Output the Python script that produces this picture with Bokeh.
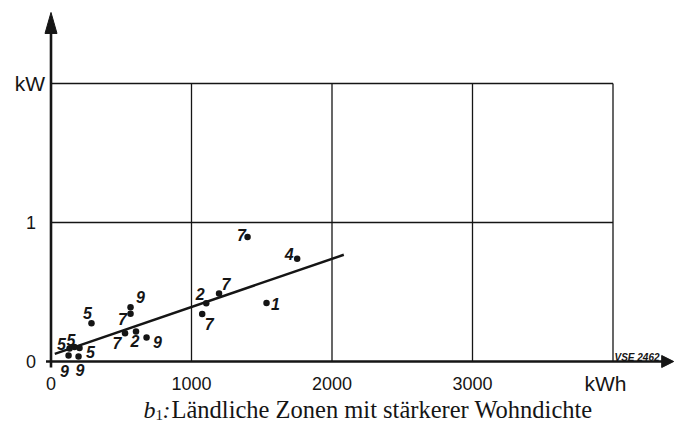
from bokeh.plotting import figure
from bokeh.models import ColumnDataSource
from bokeh.core.properties import value
from bokeh.embed import file_html
from bokeh.resources import INLINE

# ---------------- data ----------------
energy_kwh = [288, 566, 566, 527, 605, 680, 132, 167, 203, 125, 196,
              1105, 1196, 1076, 1534, 1399, 1752]
power_kw = [0.276, 0.390, 0.343, 0.204, 0.216, 0.173, 0.094, 0.104, 0.097,
            0.043, 0.036, 0.419, 0.489, 0.342, 0.421, 0.896, 0.739]
point_labels = ["5", "9", "7", "7", "2", "9", "5", "5", "5", "9", "9",
                "2", "7", "7", "1", "7", "4"]
trend_kwh = [27, 2084]
trend_kw = [0.055, 0.768]
x_ticks = [0, 1000, 2000, 3000]
x_tick_labels = ["0", "1000", "2000", "3000"]
x_unit_pos = [3947]
x_unit = ["kWh"]
y_ticks = [0, 1]
y_tick_labels = ["0", "1"]
y_unit_pos = [2]
y_unit = ["kW"]
grid_x = [1000, 2000, 3000, 4000]
grid_y = [1, 2]
x_max = 4000
y_max = 2
caption_prefix = "b"
caption_sub = "1"
caption_text = "Ländliche Zonen mit stärkerer Wohndichte"
stamp = "VSE 2462"

# ---------------- layout (pixels) ----------------
W, H = 675, 434
X0_PX = 50.5      # pixel of x=0
SX = 0.1405       # px per kWh
Y0_PX = 361.0     # pixel (from top) of y=0
SY = 139.0        # px per kW

xr = (-X0_PX / SX, (W - X0_PX) / SX)
yr = ((Y0_PX - H) / SY, Y0_PX / SY)

def dxp(px):
    return px / SX

def dyp(px):
    return px / SY

# label offsets relative to points, in px
label_dx = [-4, 10, -8, -8, -1, 11, -8, -3.5, 11, -4, 1.5, -6, 7, 7, 9, -6, -8]
label_dy = [-10, -10, 5, 10, 10, 5, -4, -7.5, 3.5, 15, 14, -9, -10, 10, 1, -2, -5]

INK = "#151515"

p = figure(width=W, height=H, x_range=xr, y_range=yr, output_backend="svg",
           toolbar_location=None, min_border=0, x_axis_location=None,
           y_axis_location=None)
p.xgrid.visible = False
p.ygrid.visible = False
p.outline_line_color = None
p.background_fill_color = "white"
p.border_fill_color = "white"

# grid / frame
p.segment(x0=grid_x, y0=[0] * len(grid_x), x1=grid_x, y1=[y_max] * len(grid_x),
          line_color=INK, line_width=1.3)
p.segment(x0=[0] * len(grid_y), y0=grid_y, x1=[x_max] * len(grid_y), y1=grid_y,
          line_color=INK, line_width=1.3)

# axes with arrows
x_tip = 4432
y_tip = 2.511
head_len_x, head_len_y, head_half = 12, 21, 6
p.segment(x0=[-dxp(5)], y0=[0], x1=[x_tip - dxp(head_len_x) + dxp(2)], y1=[0],
          line_color=INK, line_width=2.6)
p.segment(x0=[0], y0=[-dyp(6)], x1=[0], y1=[y_tip - dyp(head_len_y) + dyp(2)],
          line_color=INK, line_width=2.6)
p.patches(
    xs=[[x_tip, x_tip - dxp(head_len_x), x_tip - dxp(head_len_x)],
        [0, -dxp(head_half), dxp(head_half)]],
    ys=[[0, dyp(head_half), -dyp(head_half)],
        [y_tip, y_tip - dyp(head_len_y), y_tip - dyp(head_len_y)]],
    fill_color=INK, line_color=INK, line_width=1)

# tick labels
p.text(x=x_ticks, y=[-dyp(22)] * len(x_ticks), text=x_tick_labels,
       text_align="center", text_baseline="middle",
       text_font=value("Liberation Sans"), text_font_size="18px", text_color=INK)
p.text(x=x_unit_pos, y=[-dyp(22)], text=x_unit,
       text_align="center", text_baseline="middle",
       text_font=value("Liberation Sans"), text_font_size="21px", text_color=INK)
p.text(x=[-dxp(20)] * len(y_ticks), y=y_ticks, text=y_tick_labels,
       text_align="center", text_baseline="middle",
       text_font=value("Liberation Sans"), text_font_size="18px", text_color=INK)
p.text(x=[-dxp(21)], y=y_unit_pos, text=y_unit,
       text_align="center", text_baseline="middle",
       text_font=value("Liberation Sans"), text_font_size="21px", text_color=INK)

# trend line
p.line(trend_kwh, trend_kw, line_color=INK, line_width=2.4)

# points
src = ColumnDataSource(dict(x=energy_kwh, y=power_kw, t=point_labels,
                            dx=label_dx, dy=label_dy))
p.scatter("x", "y", source=src, size=6.5, fill_color=INK, line_color=None)
p.text("x", "y", text="t", source=src, x_offset="dx", y_offset="dy",
       text_align="center", text_baseline="middle",
       text_font=value("Liberation Sans"), text_font_style="bold italic",
       text_font_size="16px", text_color=INK)

# stamp
p.text(x=[x_max + dxp(1.5)], y=[dyp(4)], text=[stamp], text_align="left",
       text_baseline="alphabetic", text_font=value("Liberation Sans"),
       text_font_style="bold italic", text_font_size="10px", text_color=INK)

# caption
cap_y = -dyp(48)
p.text(x=[dxp(143 - X0_PX)], y=[cap_y], text=[caption_prefix], text_align="left",
       text_baseline="middle", text_font=value("Liberation Serif"),
       text_font_style="italic", text_font_size="24px", text_color=INK)
p.text(x=[dxp(155 - X0_PX)], y=[cap_y - dyp(5)], text=[caption_sub], text_align="left",
       text_baseline="middle", text_font=value("Liberation Serif"),
       text_font_size="15px", text_color=INK)
p.text(x=[dxp(162 - X0_PX)], y=[cap_y], text=[":"], text_align="left",
       text_baseline="middle", text_font=value("Liberation Serif"),
       text_font_style="italic", text_font_size="24px", text_color=INK)
p.text(x=[dxp(171 - X0_PX)], y=[cap_y], text=[caption_text], text_align="left",
       text_baseline="middle", text_font=value("Liberation Serif"),
       text_font_size="24.5px", text_color=INK)

open("out.html", "w").write(file_html(p, INLINE))
